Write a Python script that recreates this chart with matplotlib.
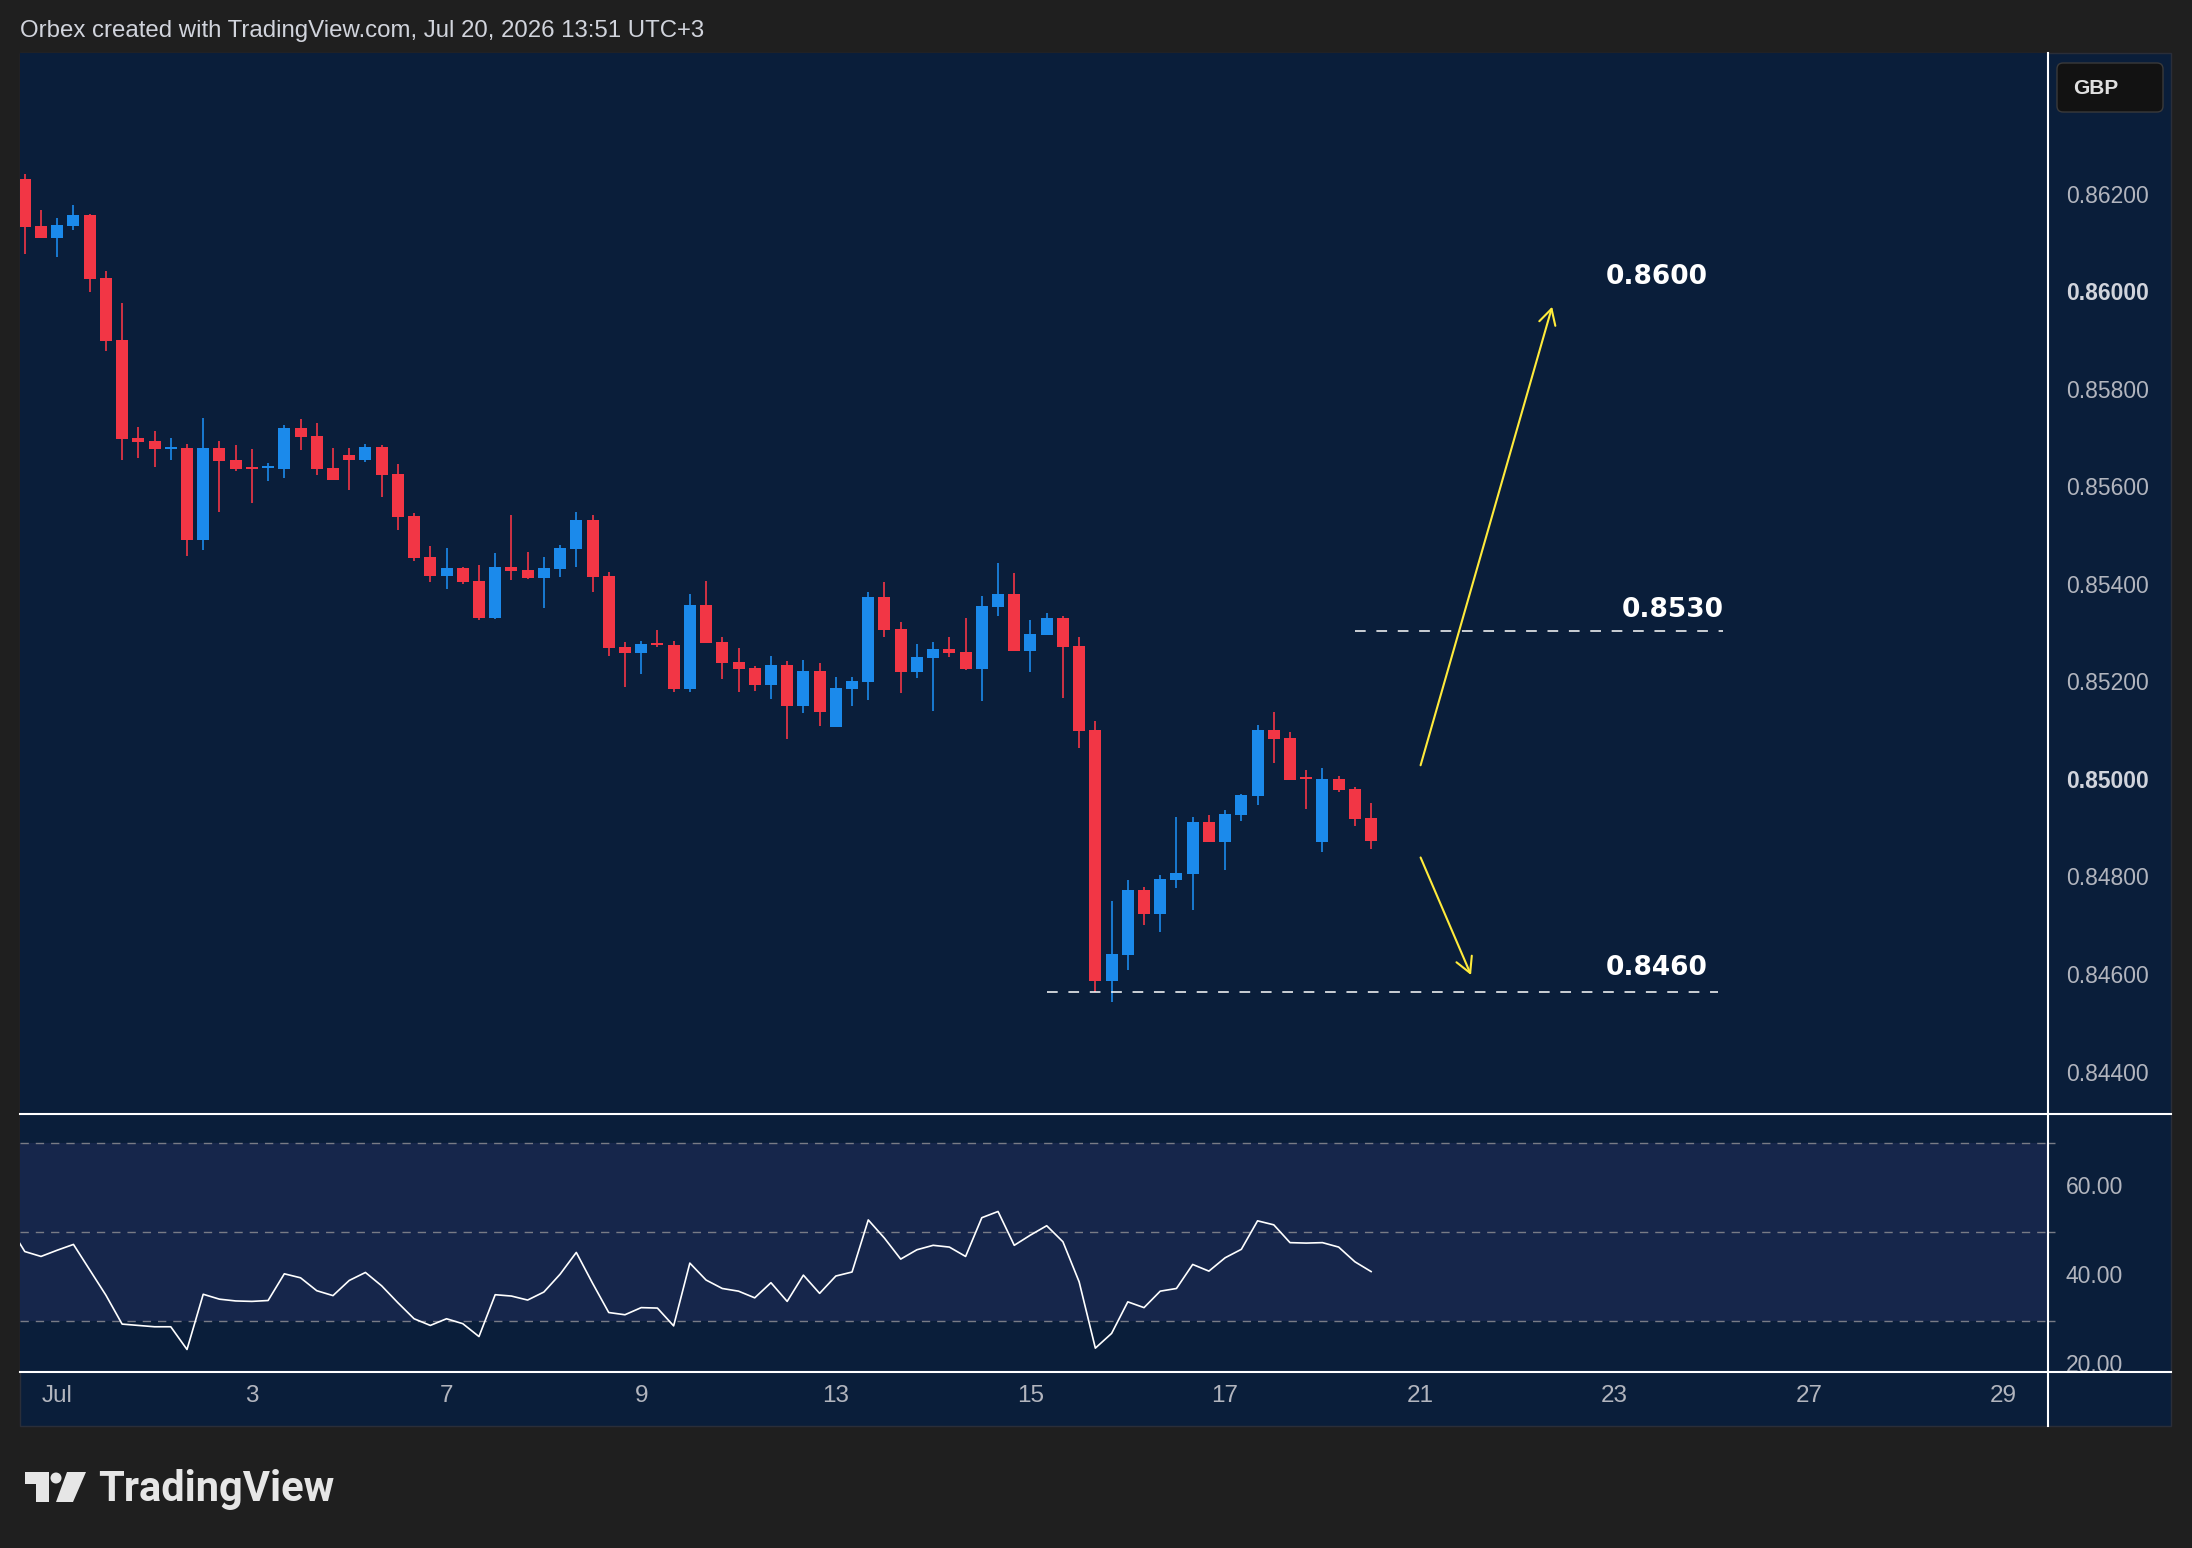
import numpy as np
import pandas as pd
import matplotlib
matplotlib.use("AGG")
import matplotlib.pyplot as plt
from matplotlib.patches import Rectangle, FancyBboxPatch, Polygon, Circle, FancyArrowPatch
from matplotlib.lines import Line2D

# 4H candles, first one is Jun 30 16:00
first_bar = "2026-06-30 16:00"
opens = [0.86235, 0.86139, 0.86114, 0.86139, 0.86161, 0.86032, 0.85905, 0.85704, 0.85698, 0.85681,
         0.85683, 0.85495, 0.85683, 0.85659, 0.85644, 0.85642, 0.85640, 0.85724, 0.85708, 0.85642,
         0.85669, 0.85659, 0.85686, 0.85630, 0.85544, 0.85460, 0.85421, 0.85437, 0.85411, 0.85335,
         0.85439, 0.85433, 0.85417, 0.85435, 0.85476, 0.85536, 0.85421, 0.85276, 0.85263, 0.85284,
         0.85280, 0.85189, 0.85362, 0.85286, 0.85245, 0.85232, 0.85198, 0.85239, 0.85155, 0.85226,
         0.85112, 0.85189, 0.85204, 0.85378, 0.85312, 0.85224, 0.85253, 0.85271, 0.85265, 0.85230,
         0.85358, 0.85384, 0.85267, 0.85300, 0.85335, 0.85278, 0.85105, 0.84591, 0.84644, 0.84777,
         0.84728, 0.84798, 0.84810, 0.84917, 0.84876, 0.84931, 0.84970, 0.85105, 0.85089, 0.85009,
         0.84876, 0.85005, 0.84984, 0.84925]
highs = [0.86245, 0.86171, 0.86155, 0.86182, 0.86163, 0.86046, 0.85981, 0.85727, 0.85718, 0.85704,
         0.85692, 0.85745, 0.85698, 0.85690, 0.85681, 0.85653, 0.85731, 0.85743, 0.85735, 0.85683,
         0.85683, 0.85692, 0.85690, 0.85651, 0.85550, 0.85483, 0.85478, 0.85439, 0.85444, 0.85468,
         0.85546, 0.85470, 0.85460, 0.85485, 0.85552, 0.85546, 0.85429, 0.85286, 0.85288, 0.85310,
         0.85288, 0.85384, 0.85411, 0.85296, 0.85273, 0.85237, 0.85257, 0.85247, 0.85249, 0.85243,
         0.85214, 0.85214, 0.85388, 0.85409, 0.85327, 0.85282, 0.85286, 0.85296, 0.85335, 0.85380,
         0.85448, 0.85427, 0.85331, 0.85345, 0.85339, 0.85296, 0.85124, 0.84755, 0.84798, 0.84783,
         0.84808, 0.84927, 0.84927, 0.84931, 0.84941, 0.84974, 0.85116, 0.85142, 0.85101, 0.85023,
         0.85027, 0.85011, 0.84988, 0.84956]
lows = [0.86081, 0.86113, 0.86076, 0.86130, 0.86003, 0.85882, 0.85659, 0.85663, 0.85644, 0.85659,
        0.85462, 0.85474, 0.85552, 0.85636, 0.85571, 0.85616, 0.85622, 0.85679, 0.85628, 0.85618,
        0.85597, 0.85655, 0.85583, 0.85515, 0.85452, 0.85409, 0.85394, 0.85405, 0.85331, 0.85333,
        0.85413, 0.85415, 0.85355, 0.85419, 0.85439, 0.85388, 0.85257, 0.85194, 0.85220, 0.85276,
        0.85183, 0.85183, 0.85284, 0.85210, 0.85183, 0.85185, 0.85169, 0.85087, 0.85140, 0.85114,
        0.85112, 0.85155, 0.85167, 0.85296, 0.85181, 0.85212, 0.85144, 0.85255, 0.85228, 0.85165,
        0.85339, 0.85267, 0.85224, 0.85300, 0.85171, 0.85068, 0.84568, 0.84548, 0.84613, 0.84706,
        0.84691, 0.84781, 0.84736, 0.84876, 0.84818, 0.84919, 0.84952, 0.85038, 0.85003, 0.84943,
        0.84855, 0.84978, 0.84908, 0.84861]
closes = [0.86137, 0.86114, 0.86141, 0.86161, 0.86030, 0.85903, 0.85702, 0.85696, 0.85681, 0.85686,
          0.85495, 0.85683, 0.85657, 0.85640, 0.85642, 0.85644, 0.85724, 0.85706, 0.85640, 0.85618,
          0.85659, 0.85686, 0.85628, 0.85542, 0.85458, 0.85421, 0.85437, 0.85409, 0.85335, 0.85439,
          0.85431, 0.85417, 0.85437, 0.85478, 0.85536, 0.85419, 0.85273, 0.85263, 0.85282, 0.85280,
          0.85189, 0.85362, 0.85284, 0.85243, 0.85230, 0.85198, 0.85239, 0.85155, 0.85226, 0.85142,
          0.85191, 0.85206, 0.85378, 0.85310, 0.85224, 0.85255, 0.85271, 0.85263, 0.85230, 0.85360,
          0.85384, 0.85267, 0.85302, 0.85335, 0.85276, 0.85103, 0.84591, 0.84646, 0.84777, 0.84728,
          0.84800, 0.84812, 0.84917, 0.84876, 0.84933, 0.84972, 0.85105, 0.85087, 0.85003, 0.85005,
          0.85005, 0.84982, 0.84923, 0.84878]

# RSI(14), starts one bar before the first candle
rsi = [51.5, 45.6, 44.5, 45.9, 47.2, 41.5, 35.8, 29.3, 29.0, 28.7, 28.7,
       23.6, 36.0, 34.9, 34.5, 34.4, 34.6, 40.6, 39.7, 36.8, 35.7,
       39.1, 40.9, 37.9, 34.1, 30.5, 29.0, 30.5, 29.4, 26.5, 35.9,
       35.6, 34.7, 36.5, 40.5, 45.4, 38.5, 31.9, 31.4, 33.0, 32.9,
       28.9, 43.0, 39.2, 37.3, 36.7, 35.2, 38.6, 34.4, 40.3, 36.2,
       40.1, 41.0, 52.7, 48.6, 43.9, 46.0, 47.0, 46.6, 44.5, 53.2,
       54.6, 47.0, 49.3, 51.4, 47.8, 38.8, 23.9, 27.2, 34.3, 33.0,
       36.7, 37.3, 42.7, 41.2, 44.2, 46.1, 52.5, 51.6, 47.6, 47.5,
       47.6, 46.6, 43.3, 41.1]

tick_days = ["2026-07-01", "2026-07-03", "2026-07-07", "2026-07-09", "2026-07-13", "2026-07-15",
             "2026-07-17", "2026-07-21", "2026-07-23", "2026-07-27", "2026-07-29"]
tick_labels = ["Jul", "3", "7", "9", "13", "15", "17", "21", "23", "27", "29"]
price_ticks = [0.844, 0.846, 0.848, 0.850, 0.852, 0.854, 0.856, 0.858, 0.860, 0.862]
rsi_ticks = [20, 40, 60]
rsi_levels = [30, 50, 70]

# drawn levels and targets
level_prices = [0.85308, 0.84568]
level_start = [82.0, 63.0]
level_end = [104.7, 104.4]
target_labels = ["0.8600", "0.8530", "0.8460"]
target_prices = [0.86033, 0.85351, 0.84618]
target_x = [100.6, 101.6, 100.6]

W, H = 2192, 1548
OUTER = "#1f1f1f"
BG = "#0a1e3a"
BAND = "#16264b"
RED = "#f23645"
BLUE = "#1b8aeb"
YELLOW = "#ffeb3b"
GREY = "#b2b5be"
UI_FONT = ["Liberation Sans", "DejaVu Sans"]

# bar positions from a 4H business-day calendar
days = pd.bdate_range("2026-06-29", "2026-07-31")
times = [d + pd.Timedelta(hours=h) for d in days for h in range(0, 24, 4)]
i0 = times.index(pd.Timestamp(first_bar))
x = np.arange(len(opens))
x_rsi = np.arange(len(rsi)) - 1
tick_pos = [times.index(pd.Timestamp(d)) - i0 for d in tick_days]


def fx(px):
    return px / W


def fy(py):
    return 1 - py / H


fig = plt.figure(figsize=(W / 100, H / 100), dpi=100, facecolor=OUTER)

# pixel-coordinate layers behind and in front of the chart
back = fig.add_axes([0, 0, 1, 1], zorder=-1)
back.set_xlim(0, W)
back.set_ylim(H, 0)
back.axis("off")
back.add_patch(Rectangle((19.6, 53), 2171 - 19.6, 1426 - 53, facecolor=BG, edgecolor="#2a2e39", lw=1))

L, R = 19.6, 2048
ax = fig.add_axes([fx(L), fy(1114), fx(R) - fx(L), fy(53) - fy(1114)], facecolor=BG)
ax_r = fig.add_axes([fx(L), fy(1371.5), fx(R) - fx(L), fy(1114) - fy(1371.5)], facecolor=BG, sharex=ax)
sc = fig.add_axes([fx(R), fy(1114), fx(2171) - fx(R), fy(53) - fy(1114)])
sc_r = fig.add_axes([fx(R), fy(1371.5), fx(2171) - fx(R), fy(1114) - fy(1371.5)])

# candles
op = np.array(opens)
cl = np.array(closes)
cols = [BLUE if c >= o else RED for o, c in zip(op, cl)]
body = cl - op
body = np.where(np.abs(body) < 0.00004, np.where(body >= 0, 0.00004, -0.00004), body)
ax.vlines(x, lows, highs, colors=cols, lw=1.2, zorder=2)
ax.bar(x, body, bottom=op, width=0.74, color=cols, lw=0, zorder=3)

ax.set_xlim(-0.32, 124.73)
ax.set_ylim(0.843181, 0.864932)
for a in (ax, ax_r):
    for s in a.spines.values():
        s.set_visible(False)
ax.tick_params(left=False, bottom=False, labelleft=False, labelbottom=False)

ax.hlines(level_prices, level_start, level_end, colors="white", linestyles=(0, (7, 7)), lw=1.1, zorder=4)
for lab, px, py in zip(target_labels, target_x, target_prices):
    ax.text(px, py, lab, color="white", fontsize=19, fontweight="bold", ha="center", va="center")

up = FancyArrowPatch((86.05, 0.85033), (94.16, 0.85973), arrowstyle="->,head_length=0.55,head_width=0.3",
                     mutation_scale=20, color=YELLOW, lw=1.5, shrinkA=0, shrinkB=0)
down = FancyArrowPatch((86.05, 0.84844), (89.16, 0.84603), arrowstyle="->,head_length=0.55,head_width=0.3",
                       mutation_scale=20, color=YELLOW, lw=1.5, shrinkA=0, shrinkB=0)
ax.add_patch(up)
ax.add_patch(down)

# RSI pane
ax_r.set_ylim(18.65, 76.5)
ax_r.axhspan(rsi_levels[0], rsi_levels[-1], color=BAND, lw=0, zorder=0)
for lv in rsi_levels:
    ax_r.axhline(lv, color="#787b86", lw=1.0, linestyle=(0, (6, 5)), zorder=1)
ax_r.plot(x_rsi, rsi, color="white", lw=1.2, zorder=3)
ax_r.set_xticks(tick_pos)
ax_r.set_xticklabels(tick_labels, family=UI_FONT)
ax_r.tick_params(left=False, labelleft=False, length=0, pad=10, labelsize=17.5, labelcolor=GREY)

# price scale
sc.set_ylim(ax.get_ylim())
sc_r.set_ylim(ax_r.get_ylim())
for a in (sc, sc_r):
    a.set_xlim(0, 1)
    a.axis("off")
for p in price_ticks:
    bold = abs(p * 100 - round(p * 100)) < 1e-6
    sc.text(0.146, p, f"{p:.5f}", fontsize=16.5, family=UI_FONT, color="#d1d4dc" if bold else GREY,
            fontweight="bold" if bold else "normal", va="center", ha="left", clip_on=True)
for v in rsi_ticks:
    sc_r.text(0.146, v, f"{v:.2f}", fontsize=16.5, family=UI_FONT, color=GREY,
              va="center", ha="left", clip_on=True)
sc_r.hlines(rsi_levels, 0, 0.06, colors="#787b86", lw=1)

# front layer: separators, header, currency box, logo
ov = fig.add_axes([0, 0, 1, 1], zorder=5)
ov.set_xlim(0, W)
ov.set_ylim(H, 0)
ov.axis("off")
ov.patch.set_visible(False)
ov.add_line(Line2D([19.6, 2171], [1114, 1114], color="white", lw=1.5))
ov.add_line(Line2D([19.6, 2171], [1371.5, 1371.5], color="white", lw=1.5))
ov.add_line(Line2D([2048, 2048], [53, 1426], color="white", lw=1.5))

ov.text(19.6, 30.5, "Orbex created with TradingView.com, Jul 20, 2026 13:51 UTC+3",
        color="#d1d4dc", fontsize=17.3, family=UI_FONT, va="center", ha="left")

ov.add_patch(FancyBboxPatch((2057, 63), 106, 49, boxstyle="round,pad=0,rounding_size=6",
                            facecolor="#121212", edgecolor="#3a3a3a", lw=1))
ov.text(2096, 88, "GBP", color="#e0e0e0", fontsize=15, family=UI_FONT, fontweight="bold",
        ha="center", va="center")

# TradingView logo
ov.add_patch(Polygon([(25, 1472), (49, 1472), (49, 1502), (36, 1502), (36, 1484), (25, 1484)],
                     closed=True, facecolor="#e6e6e6", lw=0))
ov.add_patch(Circle((56, 1478), 5.5, facecolor="#e6e6e6", lw=0))
ov.add_patch(Polygon([(67, 1472), (86, 1472), (73, 1502), (56, 1502)], closed=True, facecolor="#e6e6e6", lw=0))
ov.text(98, 1501, "TradingView", color="#e6e6e6", fontsize=30, fontweight="bold",
        family=["Roboto", "DejaVu Sans"], ha="left", va="baseline")

fig.savefig("out.png", dpi=100, facecolor=OUTER)
